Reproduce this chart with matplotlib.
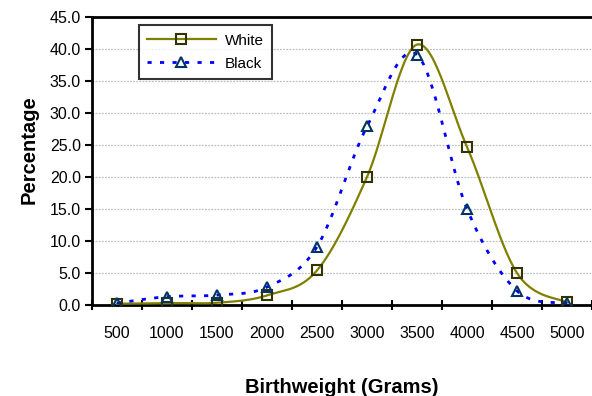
import numpy as np
import matplotlib
matplotlib.use("Agg")
import matplotlib.pyplot as plt
from matplotlib.lines import Line2D

plt.rcParams['font.family'] = ['Liberation Sans', 'DejaVu Sans']

# Data
weights = ['500', '1000', '1500', '2000', '2500', '3000', '3500', '4000', '4500', '5000']
white = [0.2, 0.3, 0.35, 1.5, 5.4, 20.0, 40.7, 24.7, 5.0, 0.4]
black = [0.3, 1.3, 1.55, 2.8, 9.1, 27.9, 39.1, 15.0, 2.2, 0.3]


def smooth(x, y, n=30):
    # Catmull-Rom style smoothing like a spreadsheet "smoothed line"
    x = np.asarray(x, float)
    y = np.asarray(y, float)
    px = np.concatenate([[x[0]], x, [x[-1]]])
    py = np.concatenate([[y[0]], y, [y[-1]]])
    xs, ys = [], []
    t = np.linspace(0, 1, n)
    for i in range(1, len(px) - 2):
        p0 = np.array([px[i], py[i]])
        p3 = np.array([px[i + 1], py[i + 1]])
        c1 = p0 + (p3 - np.array([px[i - 1], py[i - 1]])) / 6
        c2 = p3 - (np.array([px[i + 2], py[i + 2]]) - p0) / 6
        b = ((1 - t) ** 3)[:, None] * p0 + (3 * (1 - t) ** 2 * t)[:, None] * c1 \
            + (3 * (1 - t) * t ** 2)[:, None] * c2 + (t ** 3)[:, None] * p3
        xs.extend(b[:, 0])
        ys.extend(b[:, 1])
    return np.array(xs), np.array(ys)


x = np.arange(len(weights))
olive = '#808000'
blue = '#0000FF'

fig = plt.figure(figsize=(5.92, 3.96), dpi=100)
ax = fig.add_axes([0.1554, 0.2298, 0.8446, 0.7272])

ax.yaxis.grid(True, color='#c0c0c0', linestyle=(0, (1.5, 1)), linewidth=0.9)
ax.set_axisbelow(True)

sx, sy = smooth(x, white)
ax.plot(sx, sy, color=olive, linewidth=1.6, zorder=3)
ax.plot(x, white, linestyle='none', marker='s', markersize=6.5, markerfacecolor='none',
        markeredgecolor='#333300', markeredgewidth=1.5, zorder=5)

bx, by = smooth(x, black)
ax.plot(bx, by, color=blue, linewidth=2, linestyle=(0, (1.5, 3)), zorder=3)
ax.plot(x, black, linestyle='none', marker='^', markersize=6.5, markerfacecolor='none',
        markeredgecolor='#003366', markeredgewidth=1.5, zorder=5)

ax.set_xlim(-0.5, len(weights) - 0.5)
ax.set_ylim(0, 45)
ax.set_yticks(np.arange(0, 46, 5))
ax.set_yticklabels([f'{v:.1f}' for v in np.arange(0, 46, 5)], fontsize=11.5)
ax.set_xticks(x)
ax.set_xticklabels(weights, fontsize=11.5)
ax.set_xticks(np.arange(-0.5, len(weights), 1), minor=True)
ax.tick_params(axis='x', which='major', length=0, pad=15)
ax.tick_params(axis='x', which='minor', length=7, width=1.5, direction='inout')
ax.tick_params(axis='y', length=5, width=1.5, direction='out', pad=3)

for s in ['left', 'bottom', 'top']:
    ax.spines[s].set_linewidth(2)
ax.spines['right'].set_visible(False)

ax.set_ylabel('Percentage', fontsize=14.5, fontweight='bold', labelpad=9)
ax.yaxis.set_label_coords(-0.107, 0.54)
ax.set_xlabel('Birthweight (Grams)', fontsize=14.5, fontweight='bold', labelpad=27)

handles = [
    Line2D([], [], color=olive, linewidth=1.6, marker='s', markersize=6.5,
           markerfacecolor='none', markeredgecolor='#333300', markeredgewidth=1.5),
    Line2D([], [], color=blue, linewidth=2, linestyle=(0, (1.5, 3)), marker='^', markersize=6.5,
           markerfacecolor='none', markeredgecolor='#003366', markeredgewidth=1.5),
]
leg = ax.legend(handles, ['White', 'Black'], loc='upper left', bbox_to_anchor=(0.078, 0.998),
                fontsize=11, frameon=True, fancybox=False, handlelength=4.5,
                borderpad=0.55, labelspacing=0.6, handletextpad=0.6)
leg.get_frame().set_edgecolor('black')
leg.get_frame().set_linewidth(1.5)

fig.savefig('out.png', dpi=100)
